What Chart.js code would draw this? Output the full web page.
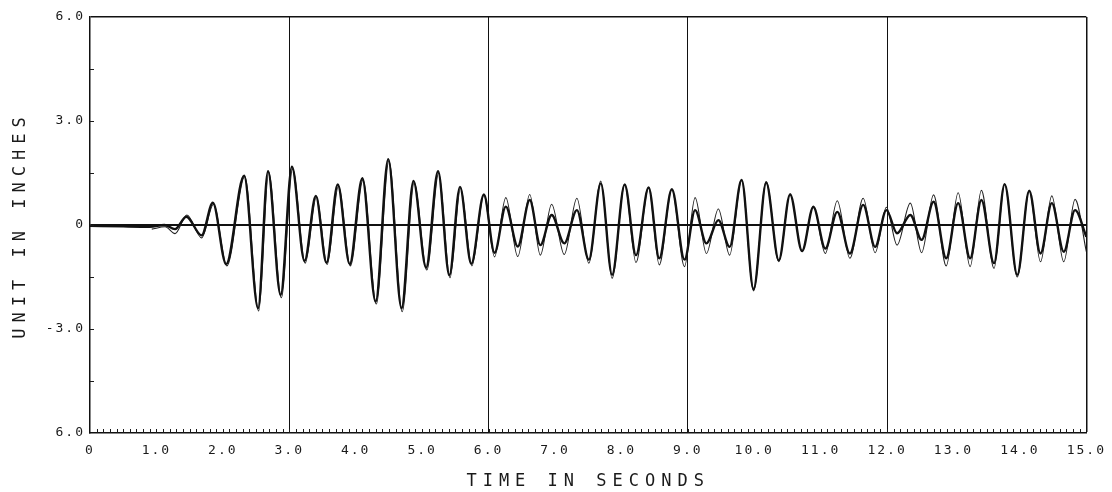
<!DOCTYPE html>
<html>
<head>
<meta charset="utf-8">
<script src="https://cdn.jsdelivr.net/npm/chart.js@4/dist/chart.umd.min.js"></script>
<style>
html,body{margin:0;padding:0;background:#fff;}
canvas{display:block;}
</style>
</head>
<body>
<canvas id="c" width="1112" height="492"></canvas>
<script>
// ---- data ----
const thickTime = [0,0.5,0.9,1.12,1.28,1.45,1.68,1.85,2.05,2.32,2.53,2.68,2.87,3.04,3.23,3.40,3.56,3.73,3.91,4.10,4.30,4.49,4.69,4.87,5.06,5.24,5.41,5.57,5.74,5.93,6.09,6.26,6.44,6.62,6.78,6.95,7.14,7.33,7.51,7.69,7.86,8.05,8.22,8.41,8.57,8.76,8.95,9.11,9.28,9.46,9.63,9.81,9.99,10.18,10.37,10.54,10.72,10.89,11.07,11.25,11.44,11.64,11.82,11.99,12.15,12.35,12.52,12.70,12.89,13.07,13.25,13.42,13.61,13.77,13.96,14.14,14.31,14.48,14.66,14.83,15.0];
const thickValue = [-0.02,-0.04,-0.05,0.0,-0.12,0.24,-0.30,0.64,-1.13,1.42,-2.40,1.55,-2.02,1.68,-1.04,0.84,-1.09,1.17,-1.13,1.35,-2.21,1.90,-2.40,1.27,-1.23,1.55,-1.45,1.10,-1.12,0.88,-0.80,0.53,-0.62,0.72,-0.58,0.29,-0.53,0.43,-1.00,1.20,-1.44,1.17,-0.87,1.08,-0.96,1.03,-1.00,0.43,-0.53,0.14,-0.63,1.30,-1.85,1.22,-1.02,0.88,-0.75,0.52,-0.68,0.38,-0.82,0.58,-0.63,0.43,-0.24,0.29,-0.43,0.67,-0.96,0.63,-0.96,0.72,-1.10,1.18,-1.44,0.99,-0.82,0.63,-0.77,0.43,-0.34];

const thinTime = [0.93,1.13,1.28,1.46,1.68,1.86,2.06,2.33,2.54,2.69,2.88,3.05,3.24,3.41,3.57,3.74,3.92,4.11,4.31,4.50,4.70,4.88,5.07,5.25,5.42,5.58,5.75,5.93,6.09,6.26,6.44,6.62,6.78,6.95,7.14,7.33,7.51,7.69,7.86,8.05,8.22,8.41,8.57,8.76,8.95,9.11,9.28,9.46,9.63,9.81,9.99,10.18,10.37,10.54,10.72,10.89,11.07,11.25,11.44,11.64,11.82,11.99,12.15,12.35,12.52,12.70,12.89,13.07,13.25,13.42,13.61,13.77,13.96,14.14,14.31,14.48,14.66,14.83,15.0];
const thinValue = [-0.12,-0.05,-0.25,0.29,-0.37,0.60,-1.18,1.40,-2.48,1.52,-2.10,1.62,-1.10,0.82,-1.14,1.12,-1.18,1.30,-2.28,1.85,-2.50,1.22,-1.30,1.50,-1.52,1.08,-1.18,0.86,-0.92,0.79,-0.91,0.88,-0.87,0.60,-0.85,0.77,-1.10,1.27,-1.54,1.17,-1.08,1.08,-1.15,1.03,-1.20,0.79,-0.82,0.46,-0.87,1.30,-1.90,1.25,-1.06,0.90,-0.77,0.55,-0.82,0.70,-0.96,0.77,-0.80,0.51,-0.58,0.63,-0.80,0.87,-1.18,0.93,-1.20,1.00,-1.25,1.18,-1.50,0.99,-1.06,0.84,-1.06,0.74,-0.77];

const xTickValues = [0,1,2,3,4,5,6,7,8,9,10,11,12,13,14,15];
const xTickLabels = ['0','1.0','2.0','3.0','4.0','5.0','6.0','7.0','8.0','9.0','10.0','11.0','12.0','13.0','14.0','15.0'];
const yTickValues = [-6,-3,0,3,6];
const yTickLabels = ['6.0','-3.0','0','3.0','6.0'];
const xGridValues = [3,6,9,12];

const xTitle = 'TIME IN SECONDS';
const yTitle = 'UNIT IN INCHES';

// ---- build library structures ----
const toPoints = (t, v) => t.map((x, i) => ({x: x, y: v[i]}));

const FONT = "'DejaVu Sans Mono', 'Liberation Mono', monospace";
const INK = '#1a1a1a';

const spacingPlugin = {
  id: 'spacing',
  beforeDraw(chart) {
    Object.values(chart.scales).forEach(s => {
      if (s._spPatched) return;
      const dt = s.drawTitle, dl = s.drawLabels;
      s.drawTitle = function(...a) { const c = this.ctx; const p = c.letterSpacing; c.letterSpacing = '6px'; dt.apply(this, a); c.letterSpacing = p || '0px'; };
      s.drawLabels = function(...a) { const c = this.ctx; const p = c.letterSpacing; c.letterSpacing = '2px'; dl.apply(this, a); c.letterSpacing = p || '0px'; };
      s._spPatched = true;
    });
  }
};

const innerTicks = {
  id: 'innerTicks',
  afterDraw(chart) {
    const {ctx, chartArea, scales} = chart;
    const xs = scales.x, ys = scales.y;
    ctx.save();
    ctx.strokeStyle = INK;
    ctx.lineWidth = 1;
    ctx.beginPath();
    for (let i = 1; i < 150; i++) {
      const px = Math.round(xs.getPixelForValue(i / 10)) + 0.5;
      ctx.moveTo(px, chartArea.bottom);
      ctx.lineTo(px, chartArea.bottom - 4);
    }
    for (let i = -3; i <= 3; i++) {
      const py = Math.round(ys.getPixelForValue(i * 1.5)) + 0.5;
      ctx.moveTo(chartArea.left, py);
      ctx.lineTo(chartArea.left + 4, py);
    }
    ctx.stroke();
    ctx.restore();
  }
};

new Chart(document.getElementById('c'), {
  type: 'line',
  data: {
    datasets: [
      {
        label: 'thick',
        data: toPoints(thickTime, thickValue),
        borderColor: '#111',
        borderWidth: 2.4,
        pointRadius: 0,
        fill: false,
        cubicInterpolationMode: 'monotone'
      },
      {
        label: 'thin',
        data: toPoints(thinTime, thinValue),
        borderColor: '#222',
        borderWidth: 1.1,
        pointRadius: 0,
        fill: false,
        cubicInterpolationMode: 'monotone'
      }
    ]
  },
  options: {
    responsive: false,
    animation: false,
    devicePixelRatio: 1,
    layout: { padding: { top: 17, right: 24, left: 0, bottom: 0 } },
    plugins: { legend: { display: false }, tooltip: { enabled: false } },
    scales: {
      x: {
        type: 'linear',
        min: 0, max: 15,
        afterBuildTicks: s => { s.ticks = xTickValues.map(v => ({value: v})); },
        afterFit: s => { s.height = 59; },
        ticks: {
          autoSkip: false,
          maxRotation: 0,
          padding: 10,
          color: INK,
          font: { family: FONT, size: 13 },
          callback: (v) => { const i = xTickValues.indexOf(v); return i >= 0 ? xTickLabels[i] : ''; }
        },
        grid: {
          drawTicks: false,
          color: (c) => (c.tick && (xGridValues.includes(c.tick.value) || c.tick.value === 15)) ? '#111' : 'rgba(0,0,0,0)',
          lineWidth: (c) => (c.tick && c.tick.value === 15) ? 1.5 : 1
        },
        border: { display: true, color: '#111', width: 1.5 },
        title: {
          display: true,
          text: xTitle,
          color: INK,
          font: { family: FONT, size: 17 },
          padding: { top: 0, bottom: 0 }
        }
      },
      y: {
        type: 'linear',
        min: -6, max: 6,
        afterBuildTicks: s => { s.ticks = yTickValues.map(v => ({value: v})); },
        afterFit: s => { s.width = 90; },
        ticks: {
          autoSkip: false,
          padding: 5,
          color: INK,
          font: { family: FONT, size: 13 },
          callback: (v) => { const i = yTickValues.indexOf(v); return i >= 0 ? yTickLabels[i] : ''; }
        },
        grid: {
          drawTicks: false,
          color: (c) => (c.tick && (c.tick.value === 0 || c.tick.value === 6)) ? '#111' : 'rgba(0,0,0,0)',
          lineWidth: (c) => (c.tick && c.tick.value === 0) ? 2 : 1.5
        },
        border: { display: true, color: '#111', width: 1.5 },
        title: {
          display: true,
          text: yTitle,
          color: INK,
          font: { family: FONT, size: 17 },
          padding: { top: 10, bottom: 0 }
        }
      }
    }
  },
  plugins: [spacingPlugin, innerTicks]
});
</script>
</body>
</html>
